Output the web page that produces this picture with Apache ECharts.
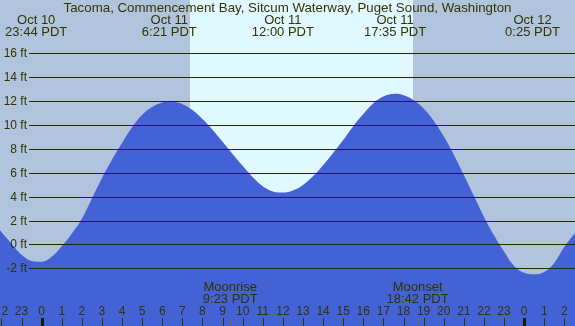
<!DOCTYPE html>
<html>
<head>
<meta charset="utf-8">
<script src="https://cdn.jsdelivr.net/npm/echarts@6/dist/echarts.min.js"></script>
<style>
html,body{margin:0;padding:0;background:#B0C4DE;}
#chart{width:575px;height:326px;}
</style>
</head>
<body>
<div id="chart"></div>
<script>
// ---- data (hours measured from Oct 11 00:00 PDT) ----
var titleText = 'Tacoma, Commencement Bay, Sitcum Waterway, Puget Sound, Washington';
var tideHours = [-2.07,-2,-1.5,-1,-0.5,0,0.5,1,1.5,2,2.5,3,3.5,4,4.5,5,5.5,6,6.38,6.5,7,7.5,8,8.5,9,9.5,10,10.5,11,11.5,12,12.5,13,13.5,14,14.5,15,15.5,16,16.5,17,17.58,18,18.5,19,19.5,20,20.5,21,21.5,22,22.5,23,23.5,24,24.46,25,25.5,26,26.53];
var tideFeet  = [1.2,1.05,0.08,-0.87,-1.38,-1.44,-1.03,-0.15,0.9,2.15,3.85,5.55,7.1,8.5,9.82,10.85,11.5,11.88,11.95,11.94,11.75,11.25,10.5,9.6,8.6,7.58,6.58,5.62,4.87,4.44,4.34,4.52,4.98,5.71,6.64,7.66,8.74,9.9,10.92,11.82,12.38,12.62,12.5,12.1,11.38,10.35,9.05,7.52,5.82,4.07,2.32,0.76,-0.6,-1.8,-2.38,-2.5,-2.3,-1.55,-0.2,0.93];
var extremeHours = [-0.27, 6.35, 12.0, 17.58, 24.42];
var extremeDates = ['Oct 10', 'Oct 11', 'Oct 11', 'Oct 11', 'Oct 12'];
var extremeTimes = ['23:44 PDT', '6:21 PDT', '12:00 PDT', '17:35 PDT', '0:25 PDT'];
var sunHours = [7.38, 18.47];            // sunrise, sunset
var moonHours = [9.38, 18.70];
var moonNames = ['Moonrise', 'Moonset'];
var moonTimes = ['9:23 PDT', '18:42 PDT'];
var gridFeet = [-2, 0, 2, 4, 6, 8, 10, 12, 14, 16];
var gridLabels = ['-2 ft', '0 ft', '2 ft', '4 ft', '6 ft', '8 ft', '10 ft', '12 ft', '14 ft', '16 ft'];
var hourTicks = [-2,-1,0,1,2,3,4,5,6,7,8,9,10,11,12,13,14,15,16,17,18,19,20,21,22,23,24,25,26];
var hourLabels = ['2','23','0','1','2','3','4','5','6','7','8','9','10','11','12','13','14','15','16','17','18','19','20','21','22','23','0','1','2'];
var xMin = -2.07, xMax = 26.53, yMin = -6.83, yMax = 20.47;

var FONT = 'Liberation Sans, Arial, sans-serif';
var TXT = '#333300';
var NIGHT = '#B0C4DE', DAY = '#E0F8FF', WATER = '#4262D6';

var chart = echarts.init(document.getElementById('chart'), null, {renderer: 'canvas'});

var option = {
  animation: false,
  backgroundColor: NIGHT,
  title: {
    text: titleText, left: 'center', top: 0,
    textStyle: {fontFamily: FONT, fontSize: 13.3, fontWeight: 'normal', color: TXT, lineHeight: 14},
    padding: [1, 0, 0, 0]
  },
  grid: {left: 0, right: 0, top: 0, bottom: 0},
  xAxis: {type: 'value', min: xMin, max: xMax, show: false},
  yAxis: {type: 'value', min: yMin, max: yMax, show: false},
  series: [
    { // daylight band
      type: 'custom', z: 0, silent: true,
      data: [[sunHours[0], sunHours[1]]],
      renderItem: function (params, api) {
        var cs = params.coordSys;
        var x1 = api.coord([api.value(0), 0])[0];
        var x2 = api.coord([api.value(1), 0])[0];
        return {type: 'rect', shape: {x: Math.round(x1), y: cs.y, width: Math.round(x2) - Math.round(x1), height: cs.height},
                style: {fill: DAY}};
      }
    },
    { // tide area
      type: 'line', z: 1, silent: true, smooth: 0.4, symbol: 'none',
      data: tideHours.map(function (h, i) { return [h, tideFeet[i]]; }),
      lineStyle: {width: 0, color: WATER},
      areaStyle: {color: WATER, opacity: 1, origin: 'start'}
    },
    { // horizontal grid lines + labels
      type: 'custom', z: 2, silent: true,
      data: gridFeet.map(function (v, i) { return [xMin, v, i]; }),
      renderItem: function (params, api) {
        var cs = params.coordSys;
        var y = Math.round(api.coord([0, api.value(1)])[1]) + 0.5;
        var i = api.value(2);
        return {type: 'group', children: [
          {type: 'line', shape: {x1: 29, y1: y, x2: cs.x + cs.width, y2: y}, style: {stroke: '#262600', lineWidth: 1.1}},
          {type: 'text', style: {text: gridLabels[i], x: 27, y: y, align: 'right', verticalAlign: 'middle',
                                 font: '12px ' + FONT, fill: TXT}}
        ]};
      }
    },
    { // hour ticks + labels
      type: 'custom', z: 3, silent: true,
      data: hourTicks.map(function (h, i) { return [h, 0, i]; }),
      renderItem: function (params, api) {
        var cs = params.coordSys;
        var h = api.value(0), i = api.value(2);
        var x = api.coord([h, 0])[0];
        var bottom = cs.y + cs.height;
        var midnight = (h % 24 === 0);
        var xl = Math.round(x) + 0.5;
        var align = 'center', lx = x;
        if (x < 5) { align = 'left'; lx = 1.5; }
        if (x > cs.width - 4) { align = 'right'; lx = cs.width - 1; }
        return {type: 'group', children: [
          {type: 'line', shape: {x1: xl, y1: bottom - 8, x2: xl, y2: bottom},
           style: {stroke: midnight ? '#1a1a00' : '#333300', lineWidth: midnight ? 3 : 1}},
          {type: 'text', style: {text: hourLabels[i], x: lx, y: bottom - 14, align: align, verticalAlign: 'middle',
                                 font: '12px ' + FONT, fill: TXT}}
        ]};
      }
    },
    { // moon events
      type: 'custom', z: 3, silent: true,
      data: moonHours.map(function (h, i) { return [h, 0, i]; }),
      renderItem: function (params, api) {
        var cs = params.coordSys;
        var i = api.value(2);
        var x = api.coord([api.value(0), 0])[0];
        var bottom = cs.y + cs.height;
        var xl = Math.round(x) + 0.5;
        return {type: 'group', children: [
          {type: 'line', shape: {x1: xl, y1: bottom - 8, x2: xl, y2: bottom}, style: {stroke: '#7a6a48', lineWidth: 1}},
          {type: 'text', style: {text: moonNames[i], x: x, y: bottom - 39, align: 'center', verticalAlign: 'middle',
                                 font: '13px ' + FONT, fill: TXT}},
          {type: 'text', style: {text: moonTimes[i], x: x, y: bottom - 27, align: 'center', verticalAlign: 'middle',
                                 font: '13px ' + FONT, fill: TXT}}
        ]};
      }
    },
    { // high / low labels at top
      type: 'custom', z: 3, silent: true,
      data: extremeHours.map(function (h, i) { return [h, 0, i]; }),
      renderItem: function (params, api) {
        var i = api.value(2);
        var x = api.coord([api.value(0), 0])[0];
        return {type: 'group', children: [
          {type: 'text', style: {text: extremeDates[i], x: x, y: 20, align: 'center', verticalAlign: 'middle',
                                 font: '13px ' + FONT, fill: TXT}},
          {type: 'text', style: {text: extremeTimes[i], x: x, y: 32, align: 'center', verticalAlign: 'middle',
                                 font: '13px ' + FONT, fill: TXT}}
        ]};
      }
    }
  ]
};
chart.setOption(option);
</script>
</body>
</html>
